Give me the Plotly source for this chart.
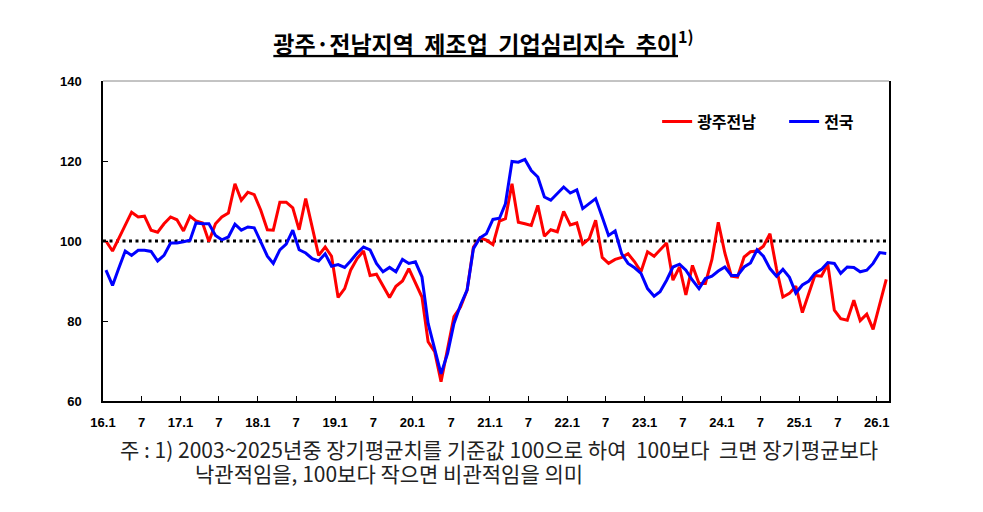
import pandas as pd
import plotly.graph_objects as go

# 제조업 BSI, 2016.1 ~ 2026.2 (monthly)
gwangju_jeonnam = [
    100.0, 97.5, 100.6, 103.9, 107.2, 106.0, 106.2, 102.7, 102.2, 104.3, 106.0, 105.3,
    102.5, 106.2, 105.0, 104.5, 99.9, 104.3, 106.0, 107.0, 114.3, 110.2, 112.2, 111.6,
    107.7, 102.8, 102.7, 109.7, 109.7, 108.3, 102.8, 110.6, 103.5, 96.4, 98.5, 96.2,
    85.9, 88.1, 92.7, 95.6, 97.5, 91.4, 91.7, 88.9, 85.9, 88.7, 90.0, 93.1,
    89.4, 86.0, 74.8, 72.3, 64.8, 72.7, 81.1, 83.5, 87.7, 98.5, 100.8, 100.2,
    99.1, 105.0, 105.6, 114.3, 104.7, 104.3, 103.9, 108.9, 101.2, 102.8, 102.3, 107.4,
    104.0, 104.5, 99.2, 100.6, 105.2, 95.9, 94.4, 95.4, 95.9, 96.8, 94.8, 92.3,
    97.3, 96.2, 97.8, 99.5, 90.2, 93.5, 86.5, 93.9, 89.4, 89.4, 95.4, 104.7,
    97.0, 91.2, 91.0, 96.0, 97.3, 97.5, 98.7, 101.8, 93.0, 86.0, 86.9, 88.7,
    82.1, 86.9, 91.4, 91.2, 94.2, 82.7, 80.6, 80.2, 85.2, 80.1, 81.7, 77.9,
    84.0, 90.4,
]
nationwide = [
    92.7, 88.9, 93.1, 97.5, 96.4, 97.7, 97.7, 97.4, 95.0, 96.4, 99.5, 99.5,
    99.8, 100.2, 104.5, 104.3, 104.3, 101.4, 100.3, 101.0, 104.2, 102.7, 103.5, 103.3,
    99.8, 96.2, 94.4, 97.8, 99.2, 102.7, 97.8, 97.0, 95.6, 95.0, 96.8, 93.7,
    94.1, 93.4, 95.0, 97.0, 98.5, 97.8, 94.4, 92.3, 93.4, 92.3, 95.4, 94.4,
    94.8, 91.0, 79.4, 72.7, 66.8, 71.9, 79.4, 84.0, 87.7, 98.1, 100.8, 101.8,
    105.4, 105.7, 109.3, 119.9, 119.7, 120.4, 117.6, 116.0, 111.0, 110.2, 112.0, 113.5,
    112.0, 112.8, 108.1, 109.3, 110.6, 106.0, 101.4, 102.5, 96.8, 94.4, 93.3, 91.9,
    88.1, 86.2, 87.3, 90.2, 93.5, 94.2, 92.7, 90.2, 88.1, 90.6, 91.2, 92.5,
    93.5, 91.4, 91.4, 93.5, 94.5, 97.8, 96.2, 93.1, 91.2, 92.9, 90.9, 87.0,
    89.0, 90.0, 91.9, 92.9, 94.6, 94.4, 91.9, 93.5, 93.4, 92.3, 92.7, 94.4,
    97.1, 96.9,
]
tick_labels = ["16.1", "7", "17.1", "7", "18.1", "7", "19.1", "7", "20.1", "7", "21.1",
               "7", "22.1", "7", "23.1", "7", "24.1", "7", "25.1", "7", "26.1"]
baseline = 100

# each month is plotted in the middle of its month, ticks sit on month starts
months = pd.date_range("2016-01-01", periods=len(gwangju_jeonnam), freq="MS")
x = months + pd.Timedelta(days=14)
tick_dates = pd.date_range("2016-01-01", periods=len(tick_labels), freq="6MS")

fig = go.Figure()
fig.add_trace(go.Scatter(x=[months[0], months[-1] + pd.Timedelta(days=40)], y=[baseline, baseline],
                         mode="lines", showlegend=False, hoverinfo="skip",
                         line=dict(color="black", width=3, dash="3px,3.5px")))
fig.add_trace(go.Scatter(x=x, y=gwangju_jeonnam, name="광주전남", mode="lines",
                         line=dict(color="#ff0000", width=3)))
fig.add_trace(go.Scatter(x=x, y=nationwide, name="전국", mode="lines",
                         line=dict(color="#0000ff", width=3)))

tick_font = dict(family="Liberation Sans, Arial", size=13, color="black", weight="bold")

# the page adds an 8px body margin, so margins are set 8px smaller on top/left
fig.update_layout(
    width=983, height=512,
    margin=dict(l=95, r=102, t=73, b=119),
    paper_bgcolor="white", plot_bgcolor="white",
    title=dict(
        text="<u>광주·전남지역  제조업  기업심리지수  추이</u><sup>1)</sup>",
        x=0.4837, xref="container", xanchor="center",
        y=0.928, yref="container", yanchor="middle",
        font=dict(family="Noto Sans CJK KR", size=23, color="black", weight="bold"),
    ),
    legend=dict(
        orientation="h", x=0.705, xanchor="left", y=0.873, yanchor="middle",
        font=dict(family="Noto Sans CJK KR", size=16, color="black", weight="bold"),
        bgcolor="rgba(0,0,0,0)", entrywidth=82,
    ),
    showlegend=True,
)

fig.update_xaxes(
    type="date", range=["2016-01-01", "2026-02-28"],
    tickvals=tick_dates, ticktext=tick_labels,
    ticks="inside", ticklen=5, tickcolor="black",
    showline=True, linecolor="black", linewidth=1.5,
    showgrid=False, zeroline=False, tickfont=tick_font, ticklabelstandoff=9,
)
fig.update_yaxes(
    range=[60, 140], dtick=20,
    ticks="inside", ticklen=5, tickcolor="black",
    showline=True, linecolor="black", linewidth=1.5, mirror=True,
    showgrid=False, zeroline=False, tickfont=tick_font, ticklabelstandoff=17,
)

# light frame line on top of the plot area
fig.add_shape(type="line", xref="paper", yref="paper", x0=0, x1=1, y0=1, y1=1,
              line=dict(color="#888888", width=1))

note_font = dict(family="Noto Sans CJK KR", size=21, color="#222222")
fig.add_annotation(text="주 : 1) 2003~2025년중 장기평균치를 기준값 100으로 하여  100보다  크면 장기평균보다",
                   xref="paper", yref="paper", x=0.0187, y=-0.150, xanchor="left", yanchor="middle",
                   showarrow=False, font=note_font)
fig.add_annotation(text="낙관적임을, 100보다 작으면 비관적임을 의미",
                   xref="paper", yref="paper", x=0.114, y=-0.224, xanchor="left", yanchor="middle",
                   showarrow=False, font=note_font)

fig.write_html("out.html")
